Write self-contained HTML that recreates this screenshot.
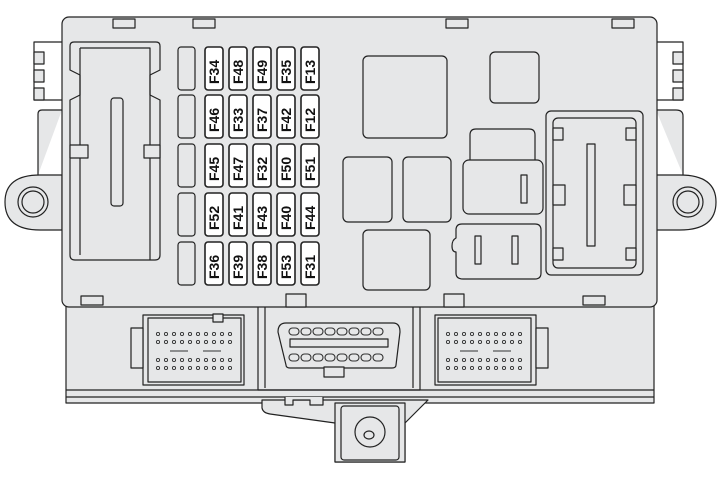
<!DOCTYPE html>
<html><head><meta charset="utf-8"><style>
html,body{margin:0;padding:0;background:#fff;width:724px;height:477px;overflow:hidden}
svg{display:block}
text{font-family:"Liberation Sans",sans-serif;font-size:14px;fill:#111;font-weight:bold}
</style></head><body>
<svg width="724" height="477" viewBox="0 0 724 477" xmlns="http://www.w3.org/2000/svg">
<g fill="#e6e7e8" stroke="#222" stroke-width="1.2" stroke-linejoin="round">
<!-- lower housing -->
<rect x="66" y="300" width="588" height="103"/>
<line x1="66" y1="390" x2="654" y2="390"/>
<line x1="66" y1="397" x2="654" y2="397"/>
<!-- bottom bracket -->
<path d="M262 400 L262 408 Q263 413 270 414 L335 423 L335 462 L405 462 L405 423 L420 408 L428 400 Z"/>
<path d="M335 403 L405 403 L405 462 L335 462 Z"/>
<rect x="341" y="406" width="58" height="54" rx="3"/>
<circle cx="370" cy="432" r="15"/>
<ellipse cx="369" cy="435" rx="5" ry="4"/>
<path d="M285 397 L285 405 L293 405 L293 400 L310 400 L310 405 L323 405 L323 397"/>
<!-- left ear -->
<path d="M62 175 L40 175 Q5 175 5 202 Q5 230 40 230 L62 230 Z"/>
<circle cx="33" cy="202" r="15"/>
<circle cx="33" cy="202" r="11"/>
<path d="M62 110 L42 110 Q38 110 38 114 L38 175"/>
<path d="M62 42 L34 42 L34 100 L62 100" fill="none"/>
<rect x="34" y="52" width="10" height="12"/><rect x="34" y="70" width="10" height="12"/><rect x="34" y="88" width="10" height="12"/>
<!-- right ear -->
<path d="M656 175 L680 175 Q716 175 716 202 Q716 230 680 230 L656 230 Z"/>
<circle cx="688" cy="202" r="15"/>
<circle cx="688" cy="202" r="11"/>
<path d="M656 110 L676 110 Q683 110 683 116 L683 175"/>
<path d="M656 42 L683 42 L683 100 L656 100" fill="none"/>
<rect x="673" y="52" width="10" height="12"/><rect x="673" y="70" width="10" height="12"/><rect x="673" y="88" width="10" height="12"/>
<!-- main body -->
<rect x="62" y="17" width="595" height="290" rx="7"/>
<!-- top clips -->
<rect x="113" y="19" width="22" height="9"/><rect x="193" y="19" width="22" height="9"/><rect x="446" y="19" width="22" height="9"/><rect x="612" y="19" width="22" height="9"/>
<rect x="81" y="296" width="22" height="9"/><rect x="583" y="296" width="22" height="9"/>
<rect x="286" y="294" width="20" height="13"/><rect x="444" y="294" width="20" height="13"/>
<!-- left connector -->
<path d="M74 42 L156 42 Q160 42 160 46 L160 70 L150 75 L150 95 L160 100 L160 255 Q160 260 155 260 L75 260 Q70 260 70 255 L70 100 L80 95 L80 75 L70 70 L70 46 Q70 42 74 42 Z"/>
<path d="M80 48 L150 48 L150 260 M80 48 L80 255" fill="none"/>
<rect x="111" y="98" width="12" height="108" rx="3"/>
<rect x="70" y="145" width="18" height="13"/><rect x="144" y="145" width="16" height="13"/>
<!-- blank column + fuses -->
<g>
<rect x="178" y="47" width="17" height="43" rx="3"/><rect x="178" y="95" width="17" height="43" rx="3"/><rect x="178" y="144" width="17" height="43" rx="3"/><rect x="178" y="193" width="17" height="43" rx="3"/><rect x="178" y="242" width="17" height="43" rx="3"/>
</g>
<g stroke-width="1.6" fill="#fff">
<rect x="205" y="47" width="18" height="43" rx="3"/><rect x="229" y="47" width="18" height="43" rx="3"/><rect x="253" y="47" width="18" height="43" rx="3"/><rect x="277" y="47" width="18" height="43" rx="3"/><rect x="301" y="47" width="18" height="43" rx="3"/>
<rect x="205" y="95" width="18" height="43" rx="3"/><rect x="229" y="95" width="18" height="43" rx="3"/><rect x="253" y="95" width="18" height="43" rx="3"/><rect x="277" y="95" width="18" height="43" rx="3"/><rect x="301" y="95" width="18" height="43" rx="3"/>
<rect x="205" y="144" width="18" height="43" rx="3"/><rect x="229" y="144" width="18" height="43" rx="3"/><rect x="253" y="144" width="18" height="43" rx="3"/><rect x="277" y="144" width="18" height="43" rx="3"/><rect x="301" y="144" width="18" height="43" rx="3"/>
<rect x="205" y="193" width="18" height="43" rx="3"/><rect x="229" y="193" width="18" height="43" rx="3"/><rect x="253" y="193" width="18" height="43" rx="3"/><rect x="277" y="193" width="18" height="43" rx="3"/><rect x="301" y="193" width="18" height="43" rx="3"/>
<rect x="205" y="242" width="18" height="43" rx="3"/><rect x="229" y="242" width="18" height="43" rx="3"/><rect x="253" y="242" width="18" height="43" rx="3"/><rect x="277" y="242" width="18" height="43" rx="3"/><rect x="301" y="242" width="18" height="43" rx="3"/>
</g>
<!-- relays -->
<rect x="363" y="56" width="84" height="82" rx="5"/>
<rect x="490" y="52" width="49" height="51" rx="5"/>
<rect x="343" y="157" width="49" height="65" rx="5"/>
<rect x="403" y="157" width="48" height="65" rx="5"/>
<rect x="363" y="230" width="67" height="60" rx="5"/>
<path d="M470 160 L470 135 Q470 129 476 129 L529 129 Q535 129 535 135 L535 160"/>
<rect x="463" y="160" width="80" height="54" rx="6"/>
<rect x="521" y="175" width="6" height="28"/>
<path d="M462 224 L535 224 Q541 224 541 230 L541 273 Q541 279 535 279 L463 279 Q456 279 456 273 L456 252 Q452 252 452 246 Q452 240 456 238 L456 230 Q456 224 462 224 Z"/>
<rect x="475" y="236" width="6" height="28"/><rect x="512" y="236" width="6" height="28"/>
<!-- right connector -->
<rect x="546" y="111" width="97" height="164" rx="5"/>
<rect x="553" y="118" width="83" height="150" rx="5"/>
<rect x="587" y="144" width="8" height="102"/>
<rect x="553" y="128" width="10" height="12"/><rect x="626" y="128" width="10" height="12"/>
<rect x="553" y="185" width="12" height="20"/><rect x="624" y="185" width="12" height="20"/>
<rect x="553" y="248" width="10" height="12"/><rect x="626" y="248" width="10" height="12"/>
<!-- lower connectors -->
<rect x="143" y="315" width="101" height="70"/>
<rect x="148" y="318" width="93" height="64"/>
<rect x="131" y="328" width="12" height="40"/>
<rect x="213" y="314" width="10" height="8"/>
<rect x="435" y="315" width="101" height="70"/>
<rect x="438" y="318" width="93" height="64"/>
<rect x="536" y="328" width="12" height="40"/>
<path d="M258 307 L258 390 L420 390 L420 307" fill="none"/>
<path d="M265 307 L265 388 M413 307 L413 388" fill="none"/>
<path d="M286 323 L393 323 Q400 323 400 332 L396 365 Q396 368 392 368 L290 368 Q286 368 286 365 L278 332 Q278 323 286 323 Z"/>
<rect x="324" y="367" width="20" height="10"/>
<rect x="290" y="339" width="98" height="8"/>
</g>
<!-- pins -->
<g fill="none" stroke="#333" stroke-width="0.9">
<g id="pinL">
<circle cx="158" cy="334" r="1.6"/><circle cx="166" cy="334" r="1.6"/><circle cx="174" cy="334" r="1.6"/><circle cx="182" cy="334" r="1.6"/><circle cx="190" cy="334" r="1.6"/><circle cx="198" cy="334" r="1.6"/><circle cx="206" cy="334" r="1.6"/><circle cx="214" cy="334" r="1.6"/><circle cx="222" cy="334" r="1.6"/><circle cx="230" cy="334" r="1.6"/>
<circle cx="158" cy="342" r="1.6"/><circle cx="166" cy="342" r="1.6"/><circle cx="174" cy="342" r="1.6"/><circle cx="182" cy="342" r="1.6"/><circle cx="190" cy="342" r="1.6"/><circle cx="198" cy="342" r="1.6"/><circle cx="206" cy="342" r="1.6"/><circle cx="214" cy="342" r="1.6"/><circle cx="222" cy="342" r="1.6"/><circle cx="230" cy="342" r="1.6"/>
<circle cx="158" cy="360" r="1.6"/><circle cx="166" cy="360" r="1.6"/><circle cx="174" cy="360" r="1.6"/><circle cx="182" cy="360" r="1.6"/><circle cx="190" cy="360" r="1.6"/><circle cx="198" cy="360" r="1.6"/><circle cx="206" cy="360" r="1.6"/><circle cx="214" cy="360" r="1.6"/><circle cx="222" cy="360" r="1.6"/><circle cx="230" cy="360" r="1.6"/>
<circle cx="158" cy="368" r="1.6"/><circle cx="166" cy="368" r="1.6"/><circle cx="174" cy="368" r="1.6"/><circle cx="182" cy="368" r="1.6"/><circle cx="190" cy="368" r="1.6"/><circle cx="198" cy="368" r="1.6"/><circle cx="206" cy="368" r="1.6"/><circle cx="214" cy="368" r="1.6"/><circle cx="222" cy="368" r="1.6"/><circle cx="230" cy="368" r="1.6"/>
<path d="M170 351 L188 351 M203 351 L221 351"/>
</g>
<use href="#pinL" transform="translate(290,0)"/>
<g stroke-width="1.1">
<rect x="289" y="328" width="10" height="7" rx="3.5"/><rect x="301" y="328" width="10" height="7" rx="3.5"/><rect x="313" y="328" width="10" height="7" rx="3.5"/><rect x="325" y="328" width="10" height="7" rx="3.5"/><rect x="337" y="328" width="10" height="7" rx="3.5"/><rect x="349" y="328" width="10" height="7" rx="3.5"/><rect x="361" y="328" width="10" height="7" rx="3.5"/><rect x="373" y="328" width="10" height="7" rx="3.5"/>
<rect x="289" y="354" width="10" height="7" rx="3.5"/><rect x="301" y="354" width="10" height="7" rx="3.5"/><rect x="313" y="354" width="10" height="7" rx="3.5"/><rect x="325" y="354" width="10" height="7" rx="3.5"/><rect x="337" y="354" width="10" height="7" rx="3.5"/><rect x="349" y="354" width="10" height="7" rx="3.5"/><rect x="361" y="354" width="10" height="7" rx="3.5"/><rect x="373" y="354" width="10" height="7" rx="3.5"/>
</g>
</g>
<!-- fuse labels (rotated) -->
<g>
<text transform="translate(219,84) rotate(-90)">F34</text><text transform="translate(243,84) rotate(-90)">F48</text><text transform="translate(267,84) rotate(-90)">F49</text><text transform="translate(291,84) rotate(-90)">F35</text><text transform="translate(315,84) rotate(-90)">F13</text>
<text transform="translate(219,132) rotate(-90)">F46</text><text transform="translate(243,132) rotate(-90)">F33</text><text transform="translate(267,132) rotate(-90)">F37</text><text transform="translate(291,132) rotate(-90)">F42</text><text transform="translate(315,132) rotate(-90)">F12</text>
<text transform="translate(219,181) rotate(-90)">F45</text><text transform="translate(243,181) rotate(-90)">F47</text><text transform="translate(267,181) rotate(-90)">F32</text><text transform="translate(291,181) rotate(-90)">F50</text><text transform="translate(315,181) rotate(-90)">F51</text>
<text transform="translate(219,230) rotate(-90)">F52</text><text transform="translate(243,230) rotate(-90)">F41</text><text transform="translate(267,230) rotate(-90)">F43</text><text transform="translate(291,230) rotate(-90)">F40</text><text transform="translate(315,230) rotate(-90)">F44</text>
<text transform="translate(219,279) rotate(-90)">F36</text><text transform="translate(243,279) rotate(-90)">F39</text><text transform="translate(267,279) rotate(-90)">F38</text><text transform="translate(291,279) rotate(-90)">F53</text><text transform="translate(315,279) rotate(-90)">F31</text>
</g>
</svg>
</body></html>
